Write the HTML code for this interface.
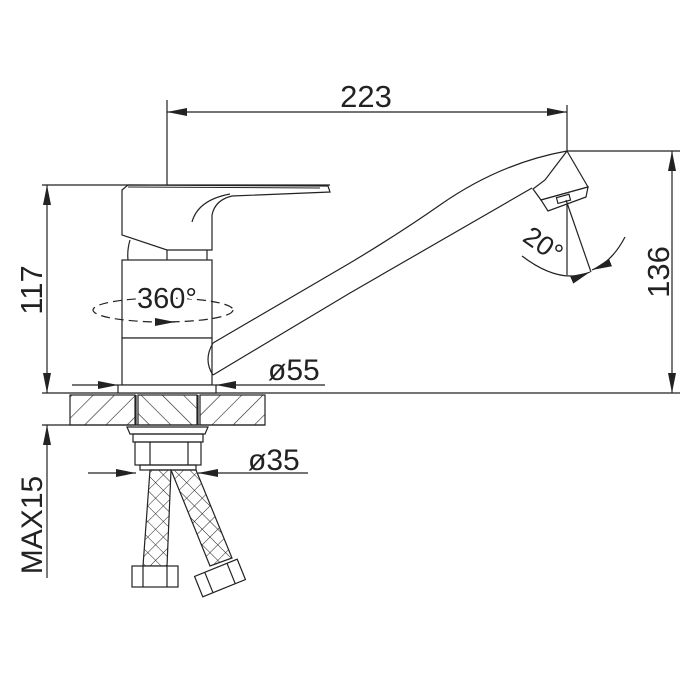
<!DOCTYPE html>
<html><head><meta charset="utf-8"><style>html,body{margin:0;padding:0;background:#fff}svg{display:block}</style></head>
<body>
<svg width="700" height="700" viewBox="0 0 700 700" xmlns="http://www.w3.org/2000/svg" font-family="Liberation Sans, Arial, sans-serif">
<defs>
<pattern id="h1" width="15" height="15" patternUnits="userSpaceOnUse" patternTransform="rotate(45)"><line x1="0" y1="0" x2="0" y2="15" stroke="#222" stroke-width="1.2"/></pattern>
<pattern id="h2" width="15" height="15" patternUnits="userSpaceOnUse" patternTransform="rotate(-45)"><line x1="0" y1="0" x2="0" y2="15" stroke="#222" stroke-width="1.2"/></pattern>
<pattern id="x" width="11" height="11" patternUnits="userSpaceOnUse" patternTransform="rotate(45)"><path d="M0 0V11M0 0H11" stroke="#222" stroke-width="1"/></pattern>
<marker id="a" viewBox="0 0 20 8" refX="20" refY="4" markerWidth="20" markerHeight="8" markerUnits="userSpaceOnUse" orient="auto"><path d="M0 0L20 4L0 8z" fill="#222"/></marker>
<marker id="b" viewBox="0 0 20 8" refX="0" refY="4" markerWidth="20" markerHeight="8" markerUnits="userSpaceOnUse" orient="auto"><path d="M20 0L0 4L20 8z" fill="#222"/></marker>
</defs>
<g stroke="#222" stroke-width="1.2" fill="none">
<line x1="167" y1="100" x2="167" y2="262"/>
<line x1="167" y1="112" x2="567" y2="112" marker-start="url(#b)" marker-end="url(#a)"/>
<line x1="567" y1="105" x2="567" y2="275"/>
<line x1="567" y1="151" x2="680" y2="151"/>
<line x1="672" y1="151" x2="672" y2="393" marker-start="url(#b)" marker-end="url(#a)"/>
<line x1="42" y1="185" x2="330" y2="185"/>
<line x1="47" y1="185" x2="47" y2="393" marker-start="url(#b)" marker-end="url(#a)"/>
<line x1="42" y1="393" x2="680" y2="393"/>
<line x1="42" y1="425" x2="265" y2="425"/>
<line x1="47" y1="425" x2="47" y2="578" marker-start="url(#b)"/>
<rect x="70" y="395" width="65" height="30" fill="url(#h1)"/>
<rect x="138" y="395" width="59" height="30" fill="url(#h2)"/>
<rect x="200" y="395" width="65" height="30" fill="url(#h1)"/>
<line x1="136" y1="395" x2="136" y2="425"/><line x1="198" y1="395" x2="198" y2="425"/>
<path d="M122 190 L128 185 L328 186 L330 192 L232 196 Q215 200 212 215 L212 250 L167 250 L122 235 Z" fill="#fff"/>
<path d="M128 187 L320 188" stroke-width="1"/>
<path d="M192 222 Q198 200 230 194" />
<path d="M130 240 Q127 250 128 260 M207 250 L207 260"/>
<rect x="122" y="260" width="90" height="78" fill="#fff"/>
<rect x="122" y="338" width="90" height="47" fill="#fff"/>
<rect x="118" y="385" width="98" height="8" fill="#fff"/>
<path d="M213 343 L350 263 Q400 233 440 205 Q500 163 567 151"/>
<path d="M213 375 L350 293 L532 188"/>
<path d="M213 343 Q203 360 213 375"/>
<path d="M567 151 L588 187 L541 200 L533 189 L545 180 Z" fill="#fff"/>
<path d="M541 200 L588 187 L586 197 L548 211 Z" fill="#fff"/>
<rect x="557" y="196" width="13" height="6" transform="rotate(-15 563 199)" fill="#fff"/>
<line x1="566" y1="200" x2="591" y2="272"/>
<path d="M522 256 Q560 285 590 272" marker-end="url(#a)"/>
<path d="M625 237 Q612 262 592 270" marker-end="url(#a)"/>
<ellipse cx="163" cy="310" rx="70" ry="12" stroke-dasharray="9 5"/>
<path d="M158 322 L175 322" marker-end="url(#a)"/>
<line x1="72" y1="385" x2="118" y2="385" marker-end="url(#a)"/>
<line x1="216" y1="385" x2="325" y2="385" marker-start="url(#b)"/>
<path d="M127 427 L208 427 L205 434 L130 434 Z"/>
<rect x="133" y="434" width="70" height="8"/>
<rect x="135" y="442" width="66" height="23"/>
<line x1="150" y1="442" x2="150" y2="465"/><line x1="188" y1="442" x2="188" y2="465"/>
<rect x="140" y="465" width="56" height="5"/>
<line x1="88" y1="473" x2="136" y2="473" marker-end="url(#a)"/>
<line x1="198" y1="473" x2="308" y2="473" marker-start="url(#b)"/>
<path d="M150 470 L171 470 L167 566 L143 566 Z" fill="url(#x)"/>
<path d="M171 470 L196 470 L232 558 L210 566 Z" fill="url(#x)"/>
<rect x="132" y="566" width="46" height="21" fill="#fff"/>
<line x1="143" y1="566" x2="143" y2="587"/><line x1="167" y1="566" x2="167" y2="587"/>
<g transform="rotate(-22 220 578)"><rect x="197" y="567" width="46" height="22" fill="#fff"/><line x1="208" y1="567" x2="208" y2="589"/><line x1="232" y1="567" x2="232" y2="589"/></g>
</g>
<g fill="#222" font-size="31">
<text x="366" y="107" text-anchor="middle">223</text>
<text x="167" y="308" text-anchor="middle" font-size="29" style="paint-order:stroke" stroke="#fff" stroke-width="6">360°</text>
<text x="268" y="380" font-size="30">ø55</text>
<text x="248" y="470" font-size="30">ø35</text>
<text transform="translate(669 272) rotate(-90)" text-anchor="middle">136</text>
<text transform="translate(42 290) rotate(-90)" text-anchor="middle">117</text>
<text transform="translate(42 525) rotate(-90)" text-anchor="middle" font-size="30">MAX15</text>
<text transform="translate(538 252) rotate(35)" text-anchor="middle" font-size="27">20°</text>
</g>
</svg>
</body></html>
